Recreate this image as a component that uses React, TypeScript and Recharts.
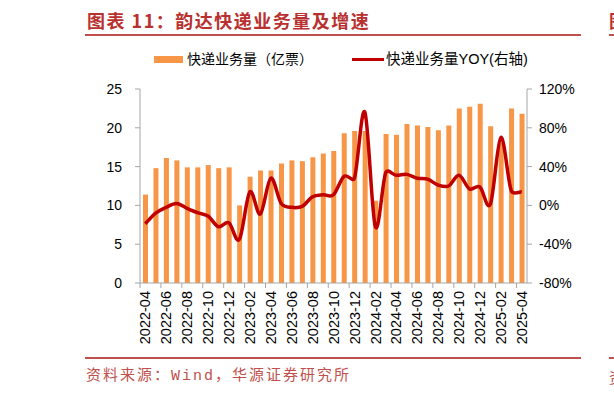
import React from "react";
import { ComposedChart, Bar, Line, XAxis, YAxis } from "recharts";

const months: string[] = [
  "2022-04", "2022-05", "2022-06", "2022-07", "2022-08", "2022-09", "2022-10", "2022-11", "2022-12",
  "2023-01", "2023-02", "2023-03", "2023-04", "2023-05", "2023-06", "2023-07", "2023-08", "2023-09",
  "2023-10", "2023-11", "2023-12", "2024-01", "2024-02", "2024-03", "2024-04", "2024-05", "2024-06",
  "2024-07", "2024-08", "2024-09", "2024-10", "2024-11", "2024-12", "2025-01", "2025-02", "2025-03",
  "2025-04",
];

const volume: number[] = [
  11.4, 14.8, 16.1, 15.8, 14.9, 14.9, 15.2, 14.8, 14.9,
  10.0, 13.7, 14.5, 14.5, 15.4, 15.8, 15.7, 16.2, 16.7,
  17.0, 19.3, 19.6, 19.6, 10.6, 19.2, 19.1, 20.5, 20.3,
  20.1, 19.7, 20.3, 22.5, 22.7, 23.1, 20.2, 18.0, 22.5,
  21.8,
];

const yoy: number[] = [
  -19, -8, -2, 2, -3, -7.5, -11, -22, -18,
  -35, 14, -9, 28, 2, -2, -1, 9, 11,
  11, 30, 28, 96, -22, 34, 31, 32, 28,
  27, 21, 20, 31, 17, 19, 1.5, 70, 15,
  14,
];

const leftTicks: number[] = [0, 5, 10, 15, 20, 25];
const rightTicks: number[] = [-80, -40, 0, 40, 80, 120];

const data = months.map((m, i) => ({ month: m, volume: volume[i], yoy: yoy[i] }));

const PLOT_LEFT = 140;
const PLOT_RIGHT = 527;
const BAND = (PLOT_RIGHT - PLOT_LEFT) / months.length;

const AXIS_COLOR = "#A6A6A6";
const BAR_COLOR = "#F79646";
const LINE_COLOR = "#C00000";
const RED = "#C0504D";
const FONT = "'Liberation Sans', Arial, 'Noto Sans CJK SC', sans-serif";

// Catmull-Rom smoothing with handle length capped relative to the segment
const smoothCurve: any = (context: any) => {
  let pts: [number, number][] = [];
  const CAP = 0.45;
  const handle = (dx: number, dy: number, seg: number): [number, number] => {
    const len = Math.hypot(dx, dy);
    const max = seg * CAP;
    if (len > max && len > 0) {
      const s = max / len;
      return [dx * s, dy * s];
    }
    return [dx, dy];
  };
  return {
    areaStart() {},
    areaEnd() {},
    lineStart() {
      pts = [];
    },
    lineEnd() {
      if (!pts.length) return;
      context.moveTo(pts[0][0], pts[0][1]);
      for (let i = 0; i < pts.length - 1; i++) {
        const p0 = pts[i - 1] || pts[i];
        const p1 = pts[i];
        const p2 = pts[i + 1];
        const p3 = pts[i + 2] || p2;
        const seg = Math.hypot(p2[0] - p1[0], p2[1] - p1[1]);
        const h1 = handle((p2[0] - p0[0]) / 6, (p2[1] - p0[1]) / 6, seg);
        const h2 = handle((p3[0] - p1[0]) / 6, (p3[1] - p1[1]) / 6, seg);
        context.bezierCurveTo(p1[0] + h1[0], p1[1] + h1[1], p2[0] - h2[0], p2[1] - h2[1], p2[0], p2[1]);
      }
    },
    point(x: number, y: number) {
      pts.push([+x, +y]);
    },
  };
};

const XTick = (props: any) => {
  const { x, y, payload } = props;
  const bx = x - BAND / 2;
  return (
    <g>
      <line x1={bx} x2={bx} y1={y} y2={y + 5} stroke={AXIS_COLOR} strokeWidth={1} />
      <text
        transform={`translate(${x},${y + 8}) rotate(-90)`}
        textAnchor="end"
        dy="0.36em"
        fontSize={14.5}
        fontFamily={FONT}
        fill="#000"
      >
        {payload.value}
      </text>
    </g>
  );
};

export default function App() {
  return (
    <div
      style={{
        position: "absolute",
        left: 0,
        top: 0,
        width: 614,
        height: 397,
        overflow: "hidden",
        background: "#fff",
      }}
    >
      {/* Title */}
      <div
        style={{
          position: "absolute",
          left: 87,
          top: 9,
          fontSize: 18,
          lineHeight: "22px",
          letterSpacing: 1.5,
          color: "#B8312F",
          fontFamily: "'Noto Sans CJK SC', sans-serif",
          fontWeight: 700,
          whiteSpace: "nowrap",
        }}
      >
        图表 11：韵达快递业务量及增速
      </div>
      <div style={{ position: "absolute", left: 85, top: 34, width: 496, height: 2, background: RED }} />
      <div
        style={{
          position: "absolute",
          left: 609,
          top: 9,
          fontSize: 18,
          lineHeight: "22px",
          color: "#B8312F",
          fontFamily: "'Noto Sans CJK SC', sans-serif",
          fontWeight: 700,
        }}
      >
        图
      </div>
      <div style={{ position: "absolute", left: 609, top: 34, width: 10, height: 2, background: RED }} />

      {/* Legend */}
      <div style={{ position: "absolute", left: 154, top: 56, width: 29, height: 7, background: BAR_COLOR }} />
      <div
        style={{
          position: "absolute",
          left: 187,
          top: 50,
          fontSize: 14,
          lineHeight: "18px",
          fontFamily: FONT,
          color: "#000",
          whiteSpace: "nowrap",
        }}
      >
        快递业务量（亿票）
      </div>
      <div style={{ position: "absolute", left: 352, top: 58, width: 32, height: 3, background: LINE_COLOR }} />
      <div
        style={{
          position: "absolute",
          left: 386,
          top: 50,
          fontSize: 14.5,
          lineHeight: "18px",
          fontFamily: FONT,
          color: "#000",
          whiteSpace: "nowrap",
        }}
      >
        快递业务量YOY(右轴)
      </div>

      {/* Chart */}
      <div style={{ position: "absolute", left: 0, top: 0 }}>
        <ComposedChart
          width={614}
          height={397}
          data={data}
          margin={{ top: 89, right: 37, bottom: 44, left: 100 }}
          barSize={5}
        >
          <XAxis
            dataKey="month"
            interval={1}
            tickLine={false}
            tickSize={0}
            tickMargin={0}
            height={70}
            axisLine={{ stroke: AXIS_COLOR }}
            tick={<XTick />}
          />
          <YAxis
            yAxisId="left"
            orientation="left"
            width={40}
            domain={[0, 25]}
            ticks={leftTicks}
            interval={0}
            tickSize={5}
            tickMargin={13}
            axisLine={{ stroke: AXIS_COLOR }}
            tickLine={{ stroke: AXIS_COLOR }}
            tick={{ fontSize: 14, fill: "#000", fontFamily: FONT }}
          />
          <YAxis
            yAxisId="right"
            orientation="right"
            width={50}
            domain={[-80, 120]}
            ticks={rightTicks}
            interval={0}
            tickSize={5}
            tickMargin={7}
            axisLine={{ stroke: AXIS_COLOR }}
            tickLine={{ stroke: AXIS_COLOR }}
            tickFormatter={(v: number) => `${v}%`}
            tick={{ fontSize: 14, fill: "#000", fontFamily: FONT }}
          />
          <Bar yAxisId="left" dataKey="volume" fill={BAR_COLOR} isAnimationActive={false} />
          <Line
            yAxisId="right"
            dataKey="yoy"
            type={smoothCurve}
            stroke={LINE_COLOR}
            strokeWidth={3.5}
            dot={false}
            activeDot={false}
            isAnimationActive={false}
          />
        </ComposedChart>
      </div>

      {/* Source */}
      <div style={{ position: "absolute", left: 85, top: 357, width: 496, height: 2, background: RED }} />
      <div style={{ position: "absolute", left: 609, top: 357, width: 10, height: 2, background: RED }} />
      <div
        style={{
          position: "absolute",
          left: 86,
          top: 367,
          fontSize: 15,
          lineHeight: "20px",
          letterSpacing: 2,
          color: RED,
          fontFamily: "'Liberation Mono', 'Noto Sans CJK SC', monospace",
          whiteSpace: "nowrap",
        }}
      >
        资料来源：Wind，华源证券研究所
      </div>
      <div
        style={{
          position: "absolute",
          left: 609,
          top: 367,
          fontSize: 15,
          lineHeight: "20px",
          color: RED,
          fontFamily: "'Noto Sans CJK SC', sans-serif",
        }}
      >
        资
      </div>
    </div>
  );
}
